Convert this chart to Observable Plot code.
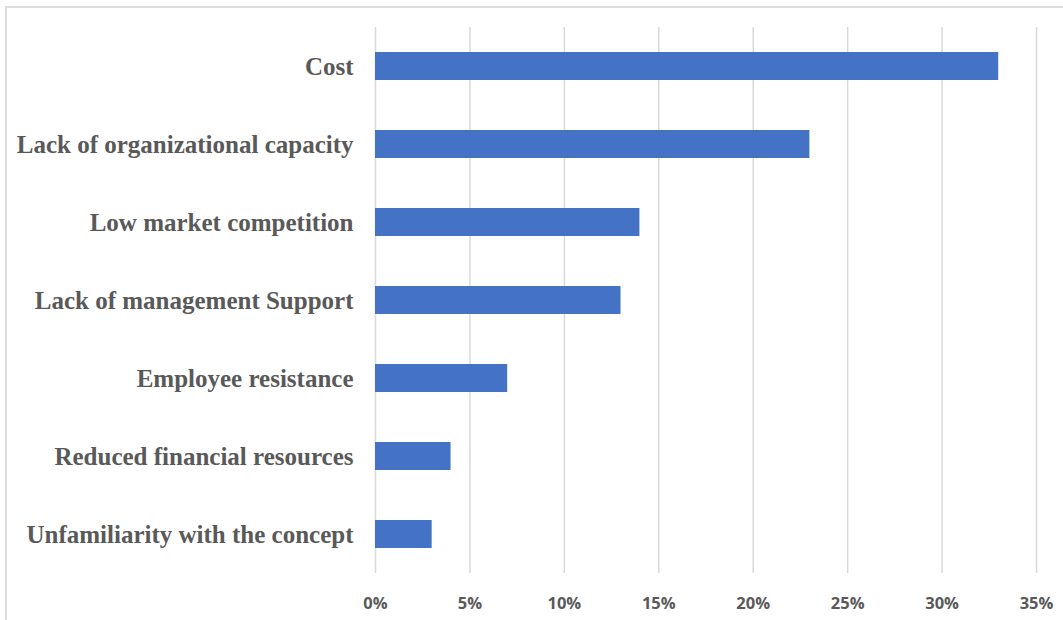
<!DOCTYPE html>
<html>
<head>
<meta charset="utf-8">
<script src="https://cdn.jsdelivr.net/npm/d3@7"></script>
<script src="https://cdn.jsdelivr.net/npm/@observablehq/plot@0.6"></script>
<style>
  html, body { margin: 0; padding: 0; background: #fff; }
  #wrap { position: relative; width: 1063px; height: 620px; overflow: hidden; }
  #frame { position: absolute; left: 5px; top: 6px; width: 1100px; height: 700px;
           border-left: 2px solid #dcdcdc; border-top: 2px solid #dcdcdc; pointer-events: none; }
</style>
</head>
<body>
<div id="wrap"><div id="frame"></div></div>
<script>
const categories = [
  "Cost",
  "Lack of organizational capacity",
  "Low market competition",
  "Lack of management Support",
  "Employee resistance",
  "Reduced financial resources",
  "Unfamiliarity with the concept"
];
const values = [33, 23, 14, 13, 7, 4, 3];
const xTicks = [0, 5, 10, 15, 20, 25, 30, 35];

const data = categories.map((c, i) => ({category: c, value: values[i]}));

const chart = Plot.plot({
  width: 1063,
  height: 620,
  marginLeft: 375,
  marginRight: 27,
  marginTop: 27,
  marginBottom: 47,
  style: {background: "transparent"},
  x: {domain: [0, 35], ticks: xTicks},
  y: {domain: categories, paddingInner: 0.64, paddingOuter: 0.32},
  marks: [
    Plot.gridX(xTicks, {stroke: "#d9d9d9", strokeOpacity: 1, strokeWidth: 1.5}),
    Plot.barX(data, {x: "value", y: "category", fill: "#4472C4"}),
    Plot.axisX(xTicks, {
      tickSize: 0, tickPadding: 24,
      tickFormat: d => d + "%",
      fontSize: 16.5, fontWeight: "bold", fill: "#595959",
      fontFamily: "'Open Sans', 'Liberation Sans', sans-serif",
      label: null
    }),
    Plot.axisY({
      tickSize: 0, tickPadding: 22,
      fontSize: 25, fontWeight: "bold", fill: "#595959",
      fontFamily: "'Liberation Serif', 'Times New Roman', serif",
      label: null
    })
  ]
});
chart.style.position = "absolute";
chart.style.left = "0";
chart.style.top = "0";
document.getElementById("wrap").appendChild(chart);
</script>
</body>
</html>
